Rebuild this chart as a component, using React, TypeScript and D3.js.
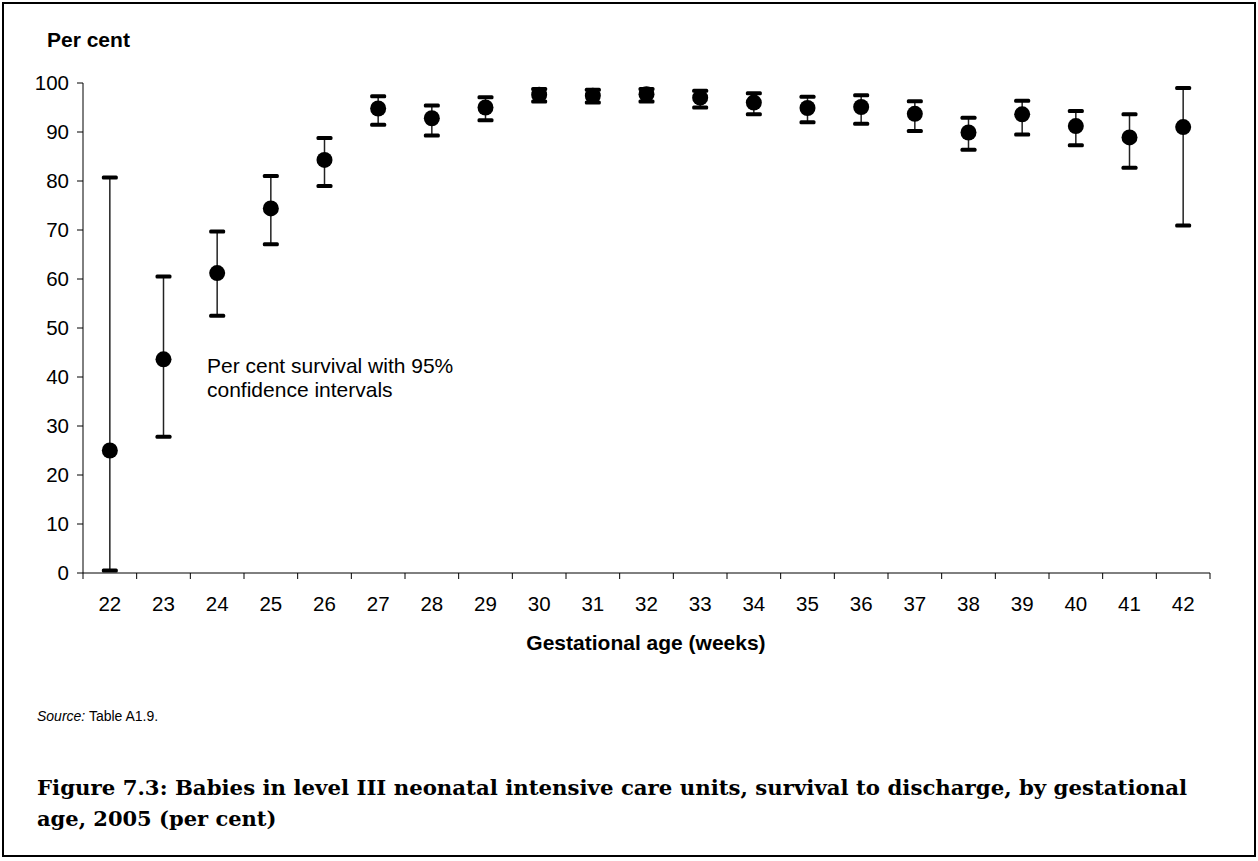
import React from "react";
import * as d3 from "d3";

const weeks = ["22","23","24","25","26","27","28","29","30","31","32","33","34","35","36","37","38","39","40","41","42"];
const survival = [25.0, 43.6, 61.2, 74.4, 84.3, 94.8, 92.8, 95.0, 97.6, 97.4, 97.7, 97.0, 96.0, 94.9, 95.1, 93.7, 89.9, 93.6, 91.2, 88.9, 91.0];
const lowerCI = [0.5, 27.8, 52.5, 67.1, 79.0, 91.5, 89.3, 92.4, 96.2, 96.0, 96.2, 95.0, 93.6, 92.0, 91.7, 90.2, 86.4, 89.5, 87.3, 82.7, 70.9];
const upperCI = [80.7, 60.5, 69.7, 81.0, 88.8, 97.3, 95.4, 97.1, 98.8, 98.6, 98.8, 98.4, 97.9, 97.2, 97.5, 96.3, 92.9, 96.4, 94.3, 93.6, 99.0];
const yTicks = [0, 10, 20, 30, 40, 50, 60, 70, 80, 90, 100];

const W = 1258, H = 861;
const sans = "'Liberation Sans', Arial, sans-serif";
const serif = "'DejaVu Serif', 'Liberation Serif', serif";

export default function App() {
  const x = d3.scaleBand<string>().domain(weeks).range([83, 1210]);
  const y = d3.scaleLinear().domain([0, 100]).range([573, 83]);
  const bw = x.bandwidth();
  const boundaries = weeks.map((w) => x(w)!).concat([x.range()[1]]);

  return (
    <svg width={W} height={H} style={{ position: "absolute", left: 0, top: 0, background: "#fff" }}>
      <rect x={3} y={3} width={W - 6} height={H - 8} fill="#fff" stroke="#000" strokeWidth={2} />
      <text x={47} y={47} fontFamily={sans} fontSize={21} fontWeight="bold">Per cent</text>

      {/* y axis */}
      <line x1={83} x2={83} y1={y(100)} y2={y(0)} stroke="#000" strokeWidth={1} />
      {yTicks.map((t) => (
        <g key={t}>
          <line x1={77} x2={83} y1={y(t)} y2={y(t)} stroke="#000" />
          <text x={69} y={y(t)} dy="0.35em" textAnchor="end" fontFamily={sans} fontSize={20.5}>{t}</text>
        </g>
      ))}

      {/* x axis */}
      <line x1={83} x2={1210} y1={y(0)} y2={y(0)} stroke="#000" strokeWidth={1} />
      {boundaries.map((b, i) => (
        <line key={i} x1={b} x2={b} y1={y(0)} y2={y(0) + 6} stroke="#000" />
      ))}
      {weeks.map((w) => (
        <text key={w} x={x(w)! + bw / 2} y={611} textAnchor="middle" fontFamily={sans} fontSize={20.5}>{w}</text>
      ))}
      <text x={646} y={650} textAnchor="middle" fontFamily={sans} fontSize={21} fontWeight="bold">Gestational age (weeks)</text>

      {/* error bars and points */}
      {weeks.map((w, i) => {
        const cx = x(w)! + bw / 2;
        return (
          <g key={w}>
            <line x1={cx} x2={cx} y1={y(lowerCI[i])} y2={y(upperCI[i])} stroke="#222" strokeWidth={1.5} />
            <rect x={cx - 8} y={y(upperCI[i]) - 2} width={16} height={4} rx={1.5} fill="#000" />
            <rect x={cx - 8} y={y(lowerCI[i]) - 2} width={16} height={4} rx={1.5} fill="#000" />
            <circle cx={cx} cy={y(survival[i])} r={8} fill="#000" />
          </g>
        );
      })}

      <text fontFamily={sans} fontSize={21}>
        <tspan x={207} y={373}>Per cent survival with 95%</tspan>
        <tspan x={207} y={397}>confidence intervals</tspan>
      </text>

      <text x={37} y={721} fontFamily={sans} fontSize={14}>
        <tspan fontStyle="italic">Source:</tspan> Table A1.9.
      </text>

      <text fontFamily={serif} fontSize={21} fontWeight="bold">
        <tspan x={37} y={795} textLength={1150} lengthAdjust="spacingAndGlyphs">Figure 7.3: Babies in level III neonatal intensive care units, survival to discharge, by gestational</tspan>
        <tspan x={37} y={826}>age, 2005 (per cent)</tspan>
      </text>
    </svg>
  );
}
